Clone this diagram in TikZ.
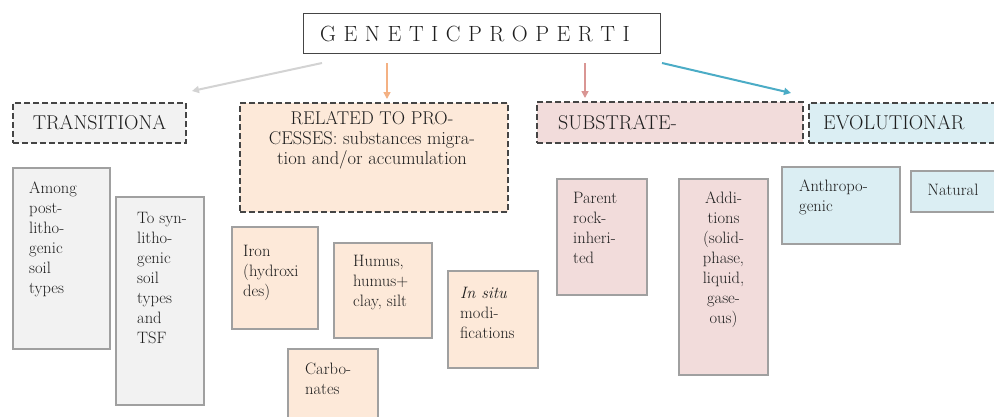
\documentclass[tikz,border=0pt]{standalone}
\usetikzlibrary{arrows.meta,calc}
\definecolor{txtc}{HTML}{1E1E1E}
\definecolor{gfill}{HTML}{F2F2F2}
\definecolor{pfill}{HTML}{FDE9D9}
\definecolor{rfill}{HTML}{F2DCDB}
\definecolor{bfill}{HTML}{DBEEF3}
\definecolor{sborder}{HTML}{A0A0A0}
\definecolor{dborder}{HTML}{454545}
\definecolor{garr}{HTML}{D3D3D3}
\definecolor{oarr}{HTML}{F4B183}
\definecolor{rarr}{HTML}{D99694}
\definecolor{barr}{HTML}{4BACC6}
\begin{document}
\begin{tikzpicture}[x=1pt,y=-1pt,
  dbox/.style={draw=dborder,line width=1.3pt,dash pattern=on 6pt off 3pt,anchor=north west,inner sep=0pt,outer sep=0pt},
  sbox/.style={draw=sborder,line width=1.2pt,anchor=north west,inner sep=0pt,outer sep=0pt},
  body/.style={inner sep=0pt,text=txtc,font=\rmfamily\fontsize{16.5}{20}\selectfont,align=left,anchor=north west},
  head/.style={inner sep=0pt,text=txtc,font=\rmfamily\fontsize{20}{20}\selectfont},
  arr/.style={line width=2pt,-{Triangle[length=7pt,width=7pt]}}]
\clip (0,0) rectangle (994,416);
\fill[white] (0,0) rectangle (994,416);
% title
\node[draw=dborder,line width=1.2pt,anchor=north west,minimum width=357pt,minimum height=40pt,inner sep=0pt] (title) at (303,13) {};
\node[inner sep=0pt,text=txtc,font=\rmfamily\fontsize{22}{22}\selectfont] (titletxt) at (475,34)
 {G\kern7.5pt E\kern7.5pt N\kern7.5pt E\kern7.5pt T\kern7.5pt I\kern7.5pt C\kern7.5pt P\kern7.5pt R\kern7.5pt O\kern7.5pt P\kern7.5pt E\kern7.5pt R\kern7.5pt T\kern7.5pt I};
% dashed category boxes
\node[dbox,fill=gfill,minimum width=173pt,minimum height=40pt] (trans) at (13,103) {};
\node[dbox,fill=pfill,minimum width=268pt,minimum height=109pt] (related) at (240,103) {};
\node[dbox,fill=rfill,minimum width=266pt,minimum height=41pt] (subst) at (537,102) {};
\node[dbox,fill=bfill,minimum width=200pt,minimum height=40pt] (evol) at (809,103) {};
\node[head] (transtxt) at (trans.center) {TRANSITIONA};
\node[head,font=\rmfamily\fontsize{18.5}{20}\selectfont,align=center,anchor=north] (relatedtxt) at (372,111) {RELATED TO PRO-\\CESSES: substances migra-\\tion and/or accumulation};
\node[head,anchor=west] (substtxt) at (558,123) {SUBSTRATE-};
\node[head,anchor=west] (evoltxt) at (823,123) {EVOLUTIONAR};
% arrows
\coordinate (ga) at (322,63); \coordinate (gb) at (192,91);
\coordinate (oa) at (387,63); \coordinate (ob) at (387,99);
\coordinate (ra) at (585,63); \coordinate (rb) at (585,98);
\coordinate (ba) at (662,63); \coordinate (bb) at (791,93);
\draw[arr,garr] (ga) -- (gb);
\draw[arr,oarr,line width=1.6pt] (oa) -- (ob);
\draw[arr,rarr,line width=1.6pt] (ra) -- (rb);
\draw[arr,barr] (ba) -- (bb);
% grey boxes
\node[sbox,fill=gfill,minimum width=97pt,minimum height=181pt] (among) at (13,168) {};
\node[sbox,fill=gfill,minimum width=88pt,minimum height=208pt] (tosyn) at (116,197) {};
\node[body] (amongtxt) at (29,182) {Among\\post-\\litho-\\genic\\soil\\types};
\node[body] (tosyntxt) at (137,212) {To syn-\\litho-\\genic\\soil\\types\\and\\TSF};
% peach boxes
\node[sbox,fill=pfill,minimum width=86pt,minimum height=102pt] (iron) at (232,227) {};
\node[sbox,fill=pfill,minimum width=98pt,minimum height=95pt] (humus) at (334,243) {};
\node[sbox,fill=pfill,minimum width=90pt,minimum height=80pt] (carb) at (288,349) {};
\node[sbox,fill=pfill,minimum width=90pt,minimum height=97pt] (insitu) at (448,271) {};
\node[body] (irontxt) at (243,245) {Iron\\(hydroxi\\des)};
\node[body] (humustxt) at (353,255) {Humus,\\humus+\\clay, silt};
\node[body] (carbtxt) at (305,363) {Carbo-\\nates};
\node[body] (insitutxt) at (460,287) {\textit{In situ}\\modi-\\fications};
% pink boxes
\node[sbox,fill=rfill,minimum width=90pt,minimum height=116pt] (parent) at (557,179) {};
\node[sbox,fill=rfill,minimum width=89pt,minimum height=196pt] (addit) at (679,179) {};
\node[body] (parenttxt) at (573,192) {Parent\\rock-\\inheri-\\ted};
\node[body,align=center,anchor=north] (addittxt) at (723.5,192) {Addi-\\tions\\(solid-\\phase,\\liquid,\\gase-\\ous)};
% blue boxes
\node[sbox,fill=bfill,minimum width=118pt,minimum height=77pt] (anthro) at (782,167) {};
\node[sbox,fill=bfill,minimum width=95pt,minimum height=41pt] (natural) at (911,171) {};
\node[body] (anthrotxt) at (799,180) {Anthropo-\\genic};
\node[body,anchor=north] (naturaltxt) at (953,184) {Natural};
\end{tikzpicture}
\end{document}
